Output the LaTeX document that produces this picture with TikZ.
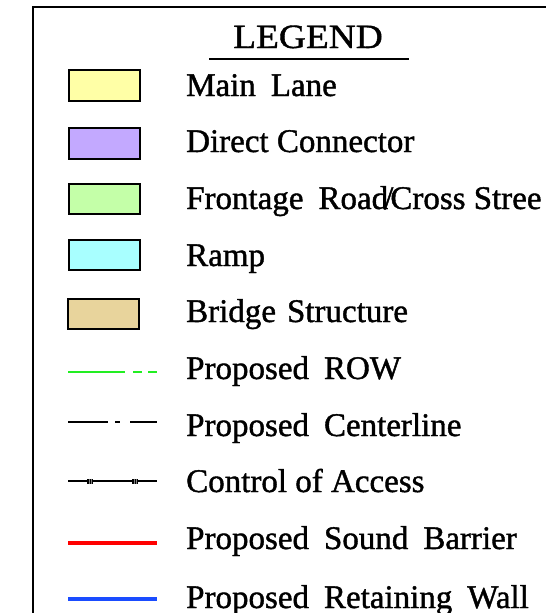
\documentclass[tikz,border=0pt]{standalone}
\usepackage{fontspec}
\setmainfont{Liberation Serif}[FakeBold=1.2]
\newfontfamily\titlefont{Liberation Serif}[FakeStretch=1.1,FakeBold=1.2]
\begin{document}
\begin{tikzpicture}[x=1pt,y=-1pt,
  swatch/.style={draw=black,line width=2.6pt},
  lbl/.style={anchor=base west,inner sep=0pt,font=\fontsize{33}{38}\selectfont},
  frame/.style={line width=2.4pt,line cap=rect}]
\useasboundingbox (0,0) rectangle (546,613);
\clip (0,0) rectangle (546,613);
\definecolor{cmain}{HTML}{FFFFA6}
\definecolor{cdirect}{HTML}{C3A9FF}
\definecolor{cfront}{HTML}{C4FFA8}
\definecolor{cramp}{HTML}{A8FFFF}
\definecolor{cbridge}{HTML}{E8D49C}
\definecolor{crow}{HTML}{22EE22}
\definecolor{cred}{HTML}{FF0000}
\definecolor{cblue}{HTML}{1A4CFF}
\newcommand\ws{\hspace{15pt}}
% frame
\coordinate (fbl) at (33,614);
\coordinate (ftl) at (33,7);
\coordinate (ftr) at (548,7);
\draw[frame] (fbl) -- (ftl) -- (ftr);
% title
\node[anchor=base,inner sep=0pt,font=\titlefont\fontsize{34}{40}\selectfont] (title) at (308,48) {LEGEND};
\coordinate (ul1) at (209,59);
\coordinate (ul2) at (409,59);
\draw[line width=2pt] (ul1) -- (ul2);
% swatches
\path[swatch,fill=cmain]   (69,70)  rectangle (140,101);
\path[swatch,fill=cdirect] (69,128) rectangle (140,159);
\path[swatch,fill=cfront]  (69,184) rectangle (140,214);
\path[swatch,fill=cramp]   (69,240) rectangle (140,270);
\path[swatch,fill=cbridge] (68,299) rectangle (139,329);
% labels
\node[lbl] (l1) at (186,96)  {Main\ws Lane};
\node[lbl] (l2) at (186,152) {Direct Connector};
\node[lbl] (l3) at (186,209) {Frontage\ws Road\kern-4pt/\kern-3pt Cross Stree};
\node[lbl] (l4) at (186,266) {Ramp};
\node[lbl] (l5) at (186,322) {Bridge\hspace{11pt}Structure};
\node[lbl] (l6) at (186,379) {Proposed\ws ROW};
\node[lbl] (l7) at (186,436) {Proposed\ws Centerline};
\node[lbl] (l8) at (186,492) {Control of Access};
\node[lbl] (l9) at (186,549) {Proposed\ws Sound\ws Barrier};
\node[lbl] (l10) at (186,608) {Proposed\ws Retaining\ws Wall};
% proposed ROW
\draw[crow,line width=1.6pt] (68,372) -- (125,372);
\draw[crow,line width=1.6pt] (133,372) -- (142,372);
\draw[crow,line width=1.6pt] (148,372) -- (157,372);
% centerline
\draw[black,line width=1.6pt] (68,422) -- (108,422);
\draw[black,line width=1.6pt] (115,422) -- (120,422);
\draw[black,line width=1.6pt] (130,422) -- (157,422);
% control of access
\draw[black,line width=1.6pt] (68,481) -- (157,481);
\fill[black] (87,478.5) rectangle (93,483.5);
\fill[black] (132,478.5) rectangle (138,483.5);
\draw[gray,line width=0.5pt] (89,478.5) -- (89,483.5) (91,478.5) -- (91,483.5)
  (134,478.5) -- (134,483.5) (136,478.5) -- (136,483.5);
% sound barrier
\draw[cred,line width=3.6pt] (68,543) -- (157,543);
% retaining wall
\draw[cblue,line width=3.4pt] (68,599) -- (157,599);
\end{tikzpicture}
\end{document}
